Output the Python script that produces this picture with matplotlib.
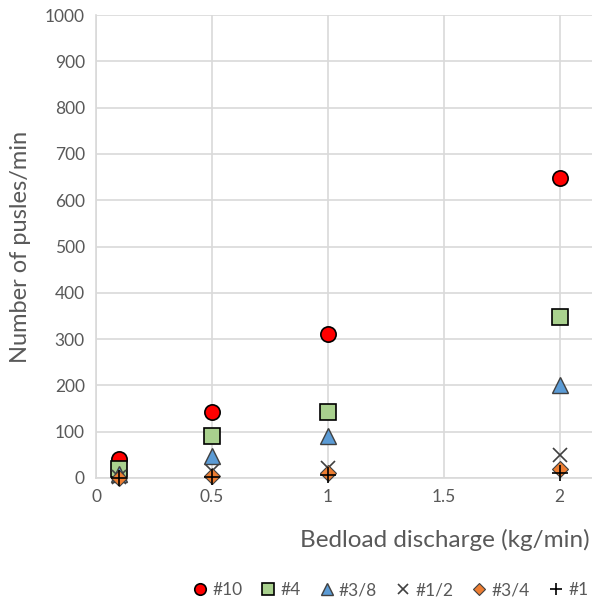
import matplotlib
matplotlib.use("Agg")
import matplotlib.pyplot as plt

x = [0.1, 0.5, 1, 2]
s10 = [40, 143, 310, 648]
s4 = [20, 90, 143, 348]
s38 = [8, 48, 90, 200]
s12 = [2, 15, 22, 50]
s34 = [0, 5, 10, 20]
s1 = [0, 3, 6, 10]
labels = ["#10", "#4", "#3/8", "#1/2", "#3/4", "#1"]

plt.rcParams['font.family'] = ['Lato', 'DejaVu Sans']
fig = plt.figure(figsize=(5.92, 6.02), dpi=100)
ax = fig.add_axes([96/592, 124/602, 1 - 96/592, (478-15)/602])

kw = dict(clip_on=False, linestyle='none')
ax.plot(x, s10, 'o', ms=11, mfc='#FF0000', mec='black', mew=1.2, label=labels[0], zorder=3, **kw)
ax.plot(x, s4, 's', ms=11, mfc='#A9D18E', mec='black', mew=1.2, label=labels[1], zorder=3, **kw)
ax.plot(x, s38, '^', ms=11, mfc='#5B9BD5', mec='#404040', mew=1.0, label=labels[2], zorder=3, **kw)
ax.plot(x, s12, 'x', ms=10, mec='#404040', mew=1.2, label=labels[3], zorder=3, **kw)
ax.plot(x, s34, 'D', ms=8, mfc='#ED7D31', mec='#404040', mew=0.8, label=labels[4], zorder=4, **kw)
ax.plot(x, s1, '+', ms=11, mec='black', mew=1.2, label=labels[5], zorder=5, **kw)

ax.set_xlim(0, 2.14)
ax.set_ylim(0, 1000)
ax.set_xticks([0, 0.5, 1, 1.5, 2])
ax.set_xticklabels(["0", "0.5", "1", "1.5", "2"])
ax.set_yticks(range(0, 1001, 100))
ax.grid(True, color='#D9D9D9', lw=1.2)
ax.set_axisbelow(True)
for sp in ['top', 'right']:
    ax.spines[sp].set_visible(False)
for sp in ['left', 'bottom']:
    ax.spines[sp].set_color('#D9D9D9')
    ax.spines[sp].set_linewidth(1.2)
ax.tick_params(length=0, labelsize=12.5, colors='#595959', pad=8)

ax.set_ylabel("Number of pusles/min", fontsize=17, color='#595959', labelpad=10)
fig.text(590/592, 1 - 540/602, "Bedload discharge (kg/min)", ha='right', va='center',
         fontsize=17.5, color='#595959')

leg = fig.legend(loc='center right', bbox_to_anchor=(1.02, 1 - 590/602), ncol=6, frameon=False,
                 fontsize=12.5, handlelength=0.8, handletextpad=0.3, columnspacing=1.1,
                 labelcolor='#595959', markerscale=0.75)

fig.savefig("out.png", dpi=100)
